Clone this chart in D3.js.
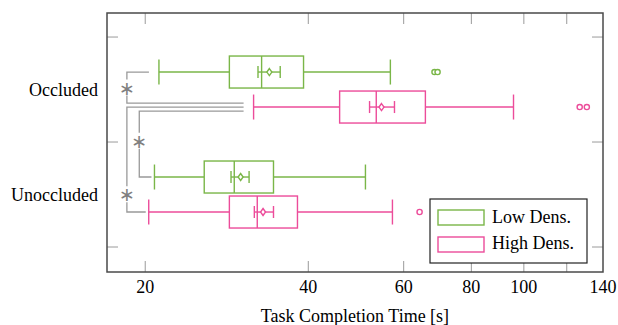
<!DOCTYPE html>
<html>
<head>
<meta charset="utf-8">
<script src="https://cdn.jsdelivr.net/npm/d3@7"></script>
<style>
  body { margin: 0; background: #fff; }
  text { font-family: "Liberation Serif", "DejaVu Serif", serif; }
</style>
</head>
<body>
<div id="chart"></div>
<script>
// categories on the y axis
const categories = ["Occluded", "Unoccluded"];
const seriesNames = ["Low Dens.", "High Dens."];

// five-number summaries per category: [whiskerLow, q1, median, q3, whiskerHigh]
const lowDensBox = [[21.2, 28.6, 32.8, 39.2, 56.7], [20.8, 25.7, 29.2, 34.5, 51.0]];
const lowDensMean = [33.9, 30.0];
const lowDensCI = [[32.3, 35.5], [28.8, 31.1]];
const lowDensOutliers = [[68.4, 69.3], []];

const highDensBox = [[31.7, 45.7, 53.4, 65.8, 95.7], [20.3, 28.6, 32.2, 38.2, 57.2]];
const highDensMean = [54.6, 33.0];
const highDensCI = [[51.9, 57.7], [31.8, 34.5]];
const highDensOutliers = [[126.8, 130.7], [64.2]];

const xTicks = [20, 40, 60, 80, 100, 120, 140];
const xTickLabels = ["20", "40", "60", "80", "100", "", "140"];

// significance brackets: [category, series] -> [category, series]
const brackets = [
  { from: [0, 0], to: [0, 1], level: 0, star: 0.5 },
  { from: [0, 1], to: [1, 1], level: 0, star: 0.83 },
  { from: [0, 1], to: [1, 0], level: 1, star: 0.45 }
];

const width = 618, height = 325;
const margin = { top: 13, right: 15, bottom: 53, left: 107 };
const colors = ["#7ab648", "#ec4c9a"];

const svg = d3.select("#chart").append("svg")
  .attr("width", width)
  .attr("height", height);

const x = d3.scaleLog()
  .domain([17, 140])
  .range([margin.left, width - margin.right]);

const y = d3.scaleLinear()
  .domain([0.271, 2.738])
  .range([margin.top, height - margin.bottom]);

const dodge = [-0.1667, 0.1667];
const boxH = 32, capH = 25, ciH = 12;

const series = [
  { box: lowDensBox, mean: lowDensMean, ci: lowDensCI, out: lowDensOutliers },
  { box: highDensBox, mean: highDensMean, ci: highDensCI, out: highDensOutliers }
];

const x0 = margin.left, x1 = width - margin.right;
const y0 = margin.top, y1 = height - margin.bottom;

// ticks (inward, pgfplots style)
const tickG = svg.append("g").attr("stroke", "#9a9a9a").attr("stroke-width", 1);
xTicks.forEach(t => {
  if (t >= 140) return;
  tickG.append("line").attr("x1", x(t)).attr("x2", x(t)).attr("y1", y1).attr("y2", y1 - 11);
  tickG.append("line").attr("x1", x(t)).attr("x2", x(t)).attr("y1", y0).attr("y2", y0 + 11);
});
[0.5, 1.5, 2.5].forEach(t => {
  tickG.append("line").attr("x1", x0).attr("x2", x0 + 11).attr("y1", y(t)).attr("y2", y(t));
  tickG.append("line").attr("x1", x1).attr("x2", x1 - 11).attr("y1", y(t)).attr("y2", y(t));
});

// x tick labels
svg.append("g").selectAll("text")
  .data(xTicks)
  .join("text")
  .attr("x", d => x(d))
  .attr("y", 293)
  .attr("text-anchor", "middle")
  .style("font-size", "18px")
  .text((d, i) => xTickLabels[i]);

// y labels
svg.append("g").selectAll("text")
  .data(categories)
  .join("text")
  .attr("x", 98)
  .attr("y", (d, i) => y(i + 1) + 6)
  .attr("text-anchor", "end")
  .style("font-size", "18px")
  .text(d => d);

// axis title
svg.append("text")
  .attr("x", (x0 + x1) / 2)
  .attr("y", 322)
  .attr("text-anchor", "middle")
  .style("font-size", "18px")
  .text("Task Completion Time [s]");

// boxes
series.forEach((s, si) => {
  const g = svg.append("g")
    .attr("stroke", colors[si])
    .attr("fill", "none")
    .attr("stroke-width", 1.4);
  categories.forEach((c, ci) => {
    const cy = y(ci + 1 + dodge[si]);
    const [lo, q1, med, q3, hi] = s.box[ci];
    g.append("line").attr("x1", x(lo)).attr("x2", x(q1)).attr("y1", cy).attr("y2", cy);
    g.append("line").attr("x1", x(q3)).attr("x2", x(hi)).attr("y1", cy).attr("y2", cy);
    g.append("line").attr("x1", x(lo)).attr("x2", x(lo)).attr("y1", cy - capH / 2).attr("y2", cy + capH / 2);
    g.append("line").attr("x1", x(hi)).attr("x2", x(hi)).attr("y1", cy - capH / 2).attr("y2", cy + capH / 2);
    g.append("rect")
      .attr("x", x(q1)).attr("y", cy - boxH / 2)
      .attr("width", x(q3) - x(q1)).attr("height", boxH)
      .attr("fill", "#fff");
    g.append("line").attr("x1", x(med)).attr("x2", x(med)).attr("y1", cy - boxH / 2).attr("y2", cy + boxH / 2);
    // confidence interval of the mean
    const [cl, ch] = s.ci[ci];
    g.append("line").attr("x1", x(cl)).attr("x2", x(ch)).attr("y1", cy).attr("y2", cy);
    g.append("line").attr("x1", x(cl)).attr("x2", x(cl)).attr("y1", cy - ciH / 2).attr("y2", cy + ciH / 2);
    g.append("line").attr("x1", x(ch)).attr("x2", x(ch)).attr("y1", cy - ciH / 2).attr("y2", cy + ciH / 2);
    const mx = x(s.mean[ci]);
    g.append("path")
      .attr("d", `M${mx},${cy - 3.5}L${mx + 2.5},${cy}L${mx},${cy + 3.5}L${mx - 2.5},${cy}Z`)
      .attr("fill", "#fff");
    s.out[ci].forEach(o => {
      g.append("circle").attr("cx", x(o)).attr("cy", cy).attr("r", 2.6).attr("fill", "#fff");
    });
  });
});

// significance brackets
const bg = svg.append("g").attr("stroke", "#999").attr("stroke-width", 1.3).attr("fill", "none");
const levelX = [x(18.5), x(19.5)];
// shared endpoint offsets so stacked brackets do not overlap
const endOffset = { "0,1": [-4, 0, 4] };
const usage = {};
brackets.forEach(b => {
  const bx = levelX[b.level];
  const pts = [b.from, b.to].map((p, k) => {
    const key = p.join(",");
    usage[key] = (usage[key] || 0);
    let cy = y(p[0] + 1 + dodge[p[1]]);
    if (endOffset[key]) cy += endOffset[key][usage[key]];
    usage[key]++;
    const gap = p[0] === 0 ? 10 : 3;
    const ex = x(series[p[1]].box[p[0]][0]) - gap;
    return { y: cy, x: ex };
  });
  const sy = pts[0].y + (pts[1].y - pts[0].y) * b.star;
  bg.append("path").attr("d", `M${pts[0].x},${pts[0].y}H${bx}V${sy - 8}`);
  bg.append("path").attr("d", `M${bx},${sy + 8}V${pts[1].y}H${pts[1].x}`);
  svg.append("text")
    .attr("x", bx)
    .attr("y", sy + 7)
    .attr("text-anchor", "middle")
    .style("font-family", "DejaVu Sans")
    .style("font-size", "19px")
    .attr("fill", "#808080")
    .text("\u2217");
});

// frame
svg.append("rect")
  .attr("x", x0).attr("y", y0)
  .attr("width", x1 - x0).attr("height", y1 - y0)
  .attr("fill", "none")
  .attr("stroke", "#4a4a4a")
  .attr("stroke-width", 1.5);

// legend
const legend = svg.append("g");
legend.append("rect")
  .attr("x", 430).attr("y", 199).attr("width", 157).attr("height", 64)
  .attr("fill", "#fff").attr("stroke", "#222").attr("stroke-width", 1.2);
seriesNames.forEach((n, i) => {
  legend.append("rect")
    .attr("x", 438).attr("y", 210 + i * 27)
    .attr("width", 46).attr("height", 15)
    .attr("fill", "#fff").attr("stroke", colors[i]).attr("stroke-width", 1.4);
  legend.append("text")
    .attr("x", 492).attr("y", 223 + i * 26)
    .style("font-size", "18px")
    .text(n);
});
</script>
</body>
</html>
